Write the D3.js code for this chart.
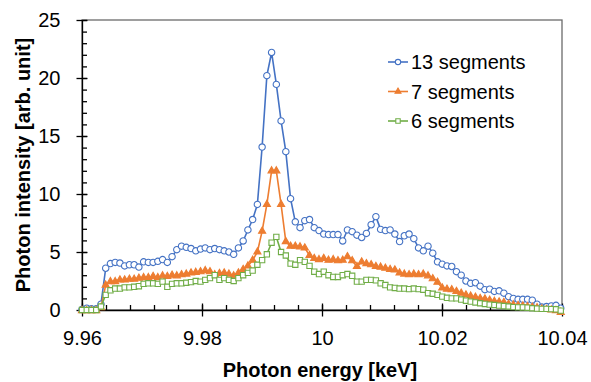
<!DOCTYPE html>
<html>
<head>
<meta charset="utf-8">
<script src="https://cdn.jsdelivr.net/npm/d3@7"></script>
<style>
    body { margin: 0; background: #fff; }
    svg { font-family: 'Liberation Sans', Arial, sans-serif; }
</style>
</head>
<body>
<div id="chart"></div>
<script>
var energy = [
    9.96000, 9.96079, 9.96158, 9.96237, 9.96316, 9.96395, 9.96474, 9.96553, 9.96632, 9.96711,
    9.96790, 9.96869, 9.96948, 9.97027, 9.97106, 9.97185, 9.97264, 9.97343, 9.97422, 9.97501,
    9.97580, 9.97659, 9.97738, 9.97817, 9.97896, 9.97975, 9.98054, 9.98133, 9.98212, 9.98291,
    9.98370, 9.98449, 9.98528, 9.98607, 9.98686, 9.98765, 9.98844, 9.98923, 9.99002, 9.99081,
    9.99160, 9.99239, 9.99318, 9.99397, 9.99476, 9.99555, 9.99634, 9.99713, 9.99792, 9.99871,
    9.99950, 10.00029, 10.00108, 10.00187, 10.00266, 10.00345, 10.00424, 10.00503, 10.00582, 10.00661,
    10.00740, 10.00819, 10.00898, 10.00977, 10.01056, 10.01135, 10.01214, 10.01293, 10.01372, 10.01451,
    10.01530, 10.01609, 10.01688, 10.01767, 10.01846, 10.01925, 10.02004, 10.02083, 10.02162, 10.02241,
    10.02320, 10.02399, 10.02478, 10.02557, 10.02636, 10.02715, 10.02794, 10.02873, 10.02952, 10.03031,
    10.03110, 10.03189, 10.03268, 10.03347, 10.03426, 10.03505, 10.03584, 10.03663, 10.03742, 10.03821,
    10.03900, 10.03979
];

var seg13 = [
    0.05, 0.15, 0.1, 0.1, 0.5, 3.6, 4.0, 4.1, 4.05, 3.8,
    3.9, 3.9, 3.7, 4.15, 4.1, 4.1, 4.2, 4.35, 4.1, 4.6,
    5.2, 5.5, 5.4, 5.3, 5.1, 5.25, 5.35, 5.2, 5.3, 5.2,
    5.1, 5.0, 4.8, 5.35, 5.95, 6.9, 7.8, 9.1, 14.05, 20.2,
    22.2, 19.45, 16.3, 13.65, 9.6, 7.6, 7.1, 7.7, 7.8, 7.1,
    6.85, 6.55, 6.5, 6.5, 6.5, 5.95, 6.9, 6.75, 6.45, 6.25,
    6.6, 7.35, 8.05, 6.95, 6.85, 6.9, 6.55, 5.9, 6.4, 6.55,
    6.15, 5.35, 5.1, 5.5, 4.9, 4.15, 3.95, 3.8, 3.75, 3.3,
    3.0, 2.5, 2.3, 2.35, 2.05, 1.75, 1.8, 1.6, 1.65, 1.45,
    1.15, 1.0, 0.92, 0.92, 0.92, 0.85, 0.5, 0.25, 0.3, 0.35,
    0.4, 0.15
];

var seg7 = [
    -0.05, -0.05, -0.05, -0.05, 0.2, 2.15, 2.45, 2.45, 2.6, 2.6,
    2.65, 2.65, 2.75, 2.8, 2.8, 2.9, 2.8, 2.95, 2.9, 3.0,
    2.95, 3.05, 3.1, 3.2, 3.25, 3.3, 3.4, 3.3, 3.05, 3.15,
    3.2, 3.1, 2.95, 3.2, 3.5, 3.8, 4.3, 5.0, 6.8, 9.1,
    12.0, 12.0, 9.1, 5.9, 5.5, 5.5, 5.45, 5.35, 4.7, 4.45,
    4.35, 4.45, 4.3, 4.35, 4.25, 4.3, 4.6, 4.25, 3.75, 4.15,
    4.0, 3.9, 3.75, 3.7, 3.6, 3.5, 3.45, 3.2, 3.1, 3.05,
    3.1, 3.05, 3.1, 2.95, 2.7, 2.4, 1.9, 1.8, 1.75, 1.6,
    1.45, 1.3, 1.2, 1.1, 1.0, 0.95, 0.85, 0.75, 0.7, 0.65,
    0.5, 0.45, 0.4, 0.35, 0.3, 0.25, 0.2, 0.1, 0.05, 0.0,
    -0.05, -0.2
];

var seg6 = [
    0.0, 0.0, 0.0, 0.0, 0.3, 1.3, 1.7, 1.85, 1.85, 1.95,
    1.95, 2.0, 2.05, 2.25, 2.3, 2.3, 2.25, 2.45, 2.0, 2.25,
    2.3, 2.3, 2.35, 2.4, 2.5, 2.45, 2.6, 2.75, 3.0, 2.6,
    2.75, 2.6, 2.5, 2.75, 3.0, 3.2, 3.4, 3.9, 4.3, 4.8,
    5.8, 6.3, 5.0, 4.7, 4.0, 3.9, 4.3, 4.15, 3.8, 3.3,
    3.1, 3.3, 3.0, 2.85, 2.85, 3.0, 3.1, 2.95, 2.45, 2.45,
    2.6, 2.6, 2.55, 2.3, 2.15, 1.95, 1.9, 1.85, 1.85, 1.8,
    1.85, 1.8, 1.75, 1.45, 1.4, 1.3, 1.15, 1.05, 1.0, 1.0,
    0.9, 0.8, 0.72, 0.65, 0.58, 0.52, 0.46, 0.43, 0.38, 0.34,
    0.3, 0.25, 0.23, 0.22, 0.2, 0.15, 0.12, 0.1, 0.1, 0.08,
    0.06, -0.05
];

var seriesNames = ['13 segments', '7 segments', '6 segments'];
var xTicks = [9.96, 9.98, 10, 10.02, 10.04];
var xTickLabels = ['9.96', '9.98', '10', '10.02', '10.04'];
var yTicks = [0, 5, 10, 15, 20, 25];

function photonChart() {
    var margin = {
        top: 20,
        right: 29,
        bottom: 72,
        left: 82
    };
    var width = 591;
    var height = 382;

    var x = d3.scaleLinear()
        .domain([9.96, 10.04])
        .range([margin.left, width - margin.right]);

    var y = d3.scaleLinear()
        .domain([0, 25])
        .range([height - margin.bottom, margin.top]);

    var series = [
        {name: seriesNames[0], values: seg13, color: '#4472C4', symbol: d3.symbolCircle, size: 32, fill: '#fff'},
        {name: seriesNames[1], values: seg7, color: '#ED7D31', symbol: d3.symbolTriangle, size: 22, fill: '#ED7D31'},
        {name: seriesNames[2], values: seg6, color: '#70AD47', symbol: d3.symbolSquare, size: 28, fill: '#fff'}
    ];

    const svg = d3.select('#chart')
        .append('svg')
        .attr('width', width)
        .attr('height', height);

    // plot frame (top and right edges show)
    svg.append('rect')
        .attr('x', margin.left)
        .attr('y', margin.top)
        .attr('width', width - margin.right - margin.left)
        .attr('height', height - margin.bottom - margin.top)
        .attr('fill', 'none')
        .attr('stroke', '#6b6b6b')
        .attr('stroke-width', 1.3);

    var xMinor = d3.range(0, 21).map(i => 9.96 + i * 0.004);
    var yMinor = d3.range(0, 26);

    var xAxis = g => g
        .attr('transform', `translate(0,${height - margin.bottom})`)
        .call(d3.axisBottom(x).tickValues(xTicks)
            .tickFormat((d, i) => xTickLabels[i]).tickSizeOuter(0))
        .call(g => g.selectAll('.tick line')
            .attr('y1', -6.5).attr('y2', 6.5))
        .call(g => g.selectAll('.tick text')
            .attr('y', 21)
            .attr('font-size', 20)
            .attr('fill', '#000'));

    var xMinorAxis = g => g
        .attr('transform', `translate(0,${height - margin.bottom})`)
        .call(d3.axisBottom(x).tickValues(xMinor).tickSize(-5)
            .tickFormat('').tickSizeOuter(0))
        .call(g => g.select('.domain').remove());

    var yAxis = g => g
        .attr('transform', `translate(${margin.left},0)`)
        .call(d3.axisLeft(y).tickValues(yTicks).tickSizeOuter(0))
        .call(g => g.selectAll('.tick line')
            .attr('x1', -5.5).attr('x2', 5.5))
        .call(g => g.selectAll('.tick text')
            .attr('x', -21.5)
            .attr('font-size', 20)
            .attr('fill', '#000'));

    var yMinorAxis = g => g
        .attr('transform', `translate(${margin.left},0)`)
        .call(d3.axisLeft(y).tickValues(yMinor).tickSize(-5)
            .tickFormat('').tickSizeOuter(0))
        .call(g => g.select('.domain').remove());

    svg.append('g').call(xMinorAxis);
    svg.append('g').call(yMinorAxis);
    svg.append('g').call(xAxis);
    svg.append('g').call(yAxis);

    svg.selectAll('.domain, .tick line')
        .attr('stroke', '#000')
        .attr('stroke-width', 1.3);

    var line = d3.line()
        .x((d, i) => x(energy[i]))
        .y(d => y(d));

    series.forEach(function (s) {
        var g = svg.append('g');
        g.append('path')
            .datum(s.values)
            .attr('fill', 'none')
            .attr('stroke', s.color)
            .attr('stroke-width', 1.6)
            .attr('stroke-linejoin', 'round')
            .attr('d', line);

        g.selectAll('path.mark')
            .data(s.values)
            .join('path')
            .attr('class', 'mark')
            .attr('transform', (d, i) => `translate(${x(energy[i])},${y(d)})`)
            .attr('d', d3.symbol().type(s.symbol).size(s.size))
            .attr('fill', s.fill)
            .attr('stroke', s.color)
            .attr('stroke-width', 1.1);
    });

    // legend
    var legend = svg.append('g')
        .attr('transform', 'translate(388,62)');

    series.forEach(function (s, i) {
        var row = legend.append('g')
            .attr('transform', `translate(0,${i * 29.5})`);
        row.append('line')
            .attr('x1', 0).attr('x2', 20)
            .attr('stroke', s.color)
            .attr('stroke-width', 1.6);
        row.append('path')
            .attr('transform', 'translate(10,0)')
            .attr('d', d3.symbol().type(s.symbol).size(s.size * 0.7))
            .attr('fill', s.fill)
            .attr('stroke', s.color)
            .attr('stroke-width', 1.1);
        row.append('text')
            .attr('x', 23)
            .attr('dy', '0.36em')
            .attr('font-size', 20)
            .text(s.name);
    });

    svg.append('text')
        .attr('x', 320)
        .attr('y', 377)
        .attr('text-anchor', 'middle')
        .attr('font-size', 20)
        .attr('font-weight', 'bold')
        .text('Photon energy [keV]');

    svg.append('text')
        .attr('transform', `translate(29.5,${(margin.top + height - margin.bottom) / 2}) rotate(-90)`)
        .attr('text-anchor', 'middle')
        .attr('font-size', 20)
        .attr('font-weight', 'bold')
        .text('Photon intensity [arb. unit]');
}
photonChart();
</script>
</body>
</html>
